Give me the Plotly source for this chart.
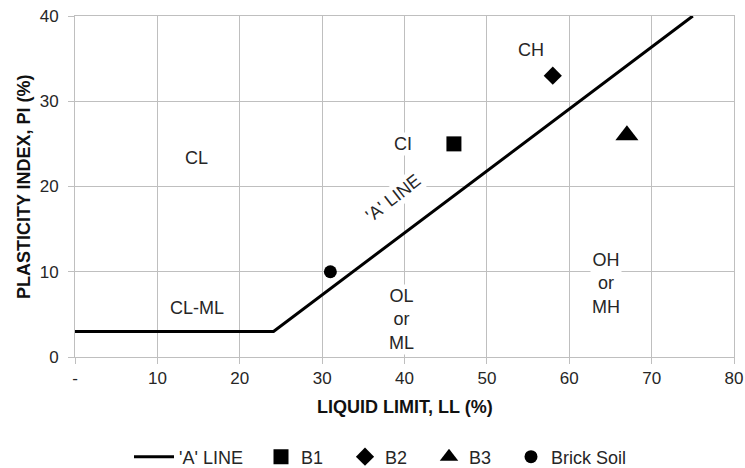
import plotly.graph_objects as go

# A-line (Casagrande plasticity chart)
aline_ll = [0, 24.1, 75]
aline_pi = [3, 3, 40]

samples = ["B1", "B2", "B3", "Brick Soil"]
sample_ll = [46, 58, 67, 31]
sample_pi = [25, 33, 26, 10]
sample_symbols = ["square", "diamond", "triangle-up", "circle"]
sample_sizes = [15, 14, 20, 13]
sample_legends = ["legend2", "legend2", "legend2", "legend3"]

x_ticks = [0, 10, 20, 30, 40, 50, 60, 70, 80]
x_ticktext = ["-", "10", "20", "30", "40", "50", "60", "70", "80"]
y_ticks = [0, 10, 20, 30, 40]

zone_labels = ["CL", "CI", "CH", "CL-ML", "OL<br>or<br>ML", "OH<br>or<br>MH"]
zone_x = [14.8, 39.8, 55.4, 14.8, 39.6, 64.5]
zone_y = [23.3, 25, 36, 5.8, 4.4, 8.6]
zone_bg = [None, "white", None, None, "white", "white"]

FONT = "Liberation Sans, Arial, sans-serif"
TXT = "#262626"
TITLE = "#111111"
GRID = "#bfbfbf"

fig = go.Figure()
fig.add_trace(go.Scatter(x=aline_ll, y=aline_pi, mode="lines", name="'A' LINE",
                         line=dict(color="black", width=3), legend="legend", showlegend=True))
for name, xv, yv, sym, sz, lg in zip(samples, sample_ll, sample_pi, sample_symbols,
                                     sample_sizes, sample_legends):
    fig.add_trace(go.Scatter(x=[xv], y=[yv], mode="markers", name=name,
                             marker=dict(symbol=sym, size=sz, color="black"),
                             legend=lg, showlegend=True))

for t, xv, yv, bg in zip(zone_labels, zone_x, zone_y, zone_bg):
    fig.add_annotation(x=xv, y=yv, text=t, showarrow=False, xref="x", yref="y",
                       font=dict(size=18, color=TXT, family=FONT),
                       bgcolor=bg if bg else "rgba(0,0,0,0)")

fig.add_annotation(x=38.6, y=18.7, text="'A' LINE", showarrow=False, textangle=-38,
                   font=dict(size=18, color=TXT, family=FONT), bgcolor="white")

# axis titles
fig.add_annotation(x=0.5, y=-0.148, xref="paper", yref="paper", text="<b>LIQUID LIMIT, LL (%)</b>",
                   showarrow=False, font=dict(size=18, color=TITLE, family=FONT), yanchor="middle")
fig.add_annotation(x=-0.078, y=0.5, xref="paper", yref="paper", text="<b>PLASTICITY INDEX, PI (%)</b>",
                   showarrow=False, textangle=-90, font=dict(size=18, color=TITLE, family=FONT),
                   xanchor="center")

axis_common = dict(showgrid=True, gridcolor=GRID, gridwidth=1, zeroline=False,
                   showline=True, linecolor=GRID, linewidth=1, mirror=True,
                   ticks="outside", ticklen=6, tickcolor=GRID, automargin=False,
                   tickfont=dict(size=17, color=TXT, family=FONT))

leg_y = -(457 - 357) / 341
leg_common = dict(orientation="h", y=leg_y, xanchor="left", yanchor="middle",
                  font=dict(size=18, color=TXT, family=FONT), bgcolor="rgba(0,0,0,0)")

fig.update_layout(
    width=745, height=468,
    margin=dict(l=75, r=11, t=16, b=111, autoexpand=False),
    plot_bgcolor="white", paper_bgcolor="white",
    showlegend=True,
    font=dict(family=FONT, color=TXT, size=18),
    xaxis=dict(range=[0, 80], tickvals=x_ticks, ticktext=x_ticktext, **axis_common),
    yaxis=dict(range=[0, 40], tickvals=y_ticks, ticklabelstandoff=6, **axis_common),
    legend=dict(x=(129 - 75) / 659, itemwidth=40, **leg_common),
    legend2=dict(x=(261 - 75) / 659, entrywidth=39, **leg_common),
    legend3=dict(x=(511 - 75) / 659, **leg_common),
)

fig.write_html("out.html", config={"displayModeBar": False},
               post_script="document.body.style.margin='0';document.body.style.overflow='hidden';")
